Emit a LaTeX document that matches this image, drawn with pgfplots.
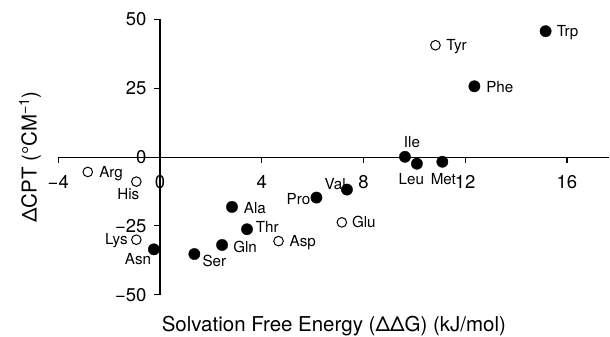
\documentclass[border=0pt]{standalone}
\usepackage{fontspec}
\setmainfont{TeX Gyre Heros}
\usepackage{pgfplots}
\pgfplotsset{compat=1.18}
\usepackage{pgfplotstable}

\pgfplotstableread{
x y
15.16 45.7
12.36 25.7
9.63 0.1
10.10 -2.4
11.10 -1.7
7.35 -11.8
6.15 -14.7
2.83 -18.1
3.42 -26.2
2.44 -31.9
1.35 -35.2
-0.24 -33.5
}\tabfilled

\pgfplotstableread{
x y
10.83 40.6
-2.84 -5.4
-0.93 -8.9
-0.93 -30.0
4.66 -30.5
7.15 -23.7
}\tabopen

\newcommand{\lab}[6]{\node[anchor=#3, xshift=#4pt, yshift=#5pt, inner sep=0pt, font=\fontsize{15.2}{18}\selectfont] at (axis cs:#1,#2) {#6};}

\begin{document}
\begin{tikzpicture}
\begin{axis}[
  scale only axis, width=551.7pt, height=275.7pt,
  xmin=-4, xmax=17.67, ymin=-50, ymax=50,
  axis lines=middle,
  hide obscured x ticks=false, hide obscured y ticks=false,
  axis line style={-, line width=1.1pt},
  tick style={line width=1.1pt, black},
  major tick length=6pt, tick align=outside,
  xtick={-4,0,4,8,12,16}, xticklabels={−4,0,4,8,12,16},
  ytick={-50,-25,0,25,50}, yticklabels={−50,−25,0,25,50},
  ticklabel style={font=\fontsize{18.5}{21}\selectfont},
  xticklabel style={yshift=-8.5pt},
  yticklabel style={xshift=-4pt},
  xlabel={Solvation Free Energy (ΔΔG) (kJ/mol)},
  ylabel={ΔCPT (°CM\textsuperscript{−1})},
  label style={font=\fontsize{20.5}{24}\selectfont},
  xlabel style={at={(rel axis cs:0.5,0)}, anchor=north, inner sep=0pt, yshift=-21.7pt},
  ylabel style={at={(rel axis cs:-0.031,0.5)}, anchor=south, rotate=90, inner sep=0pt},
  clip=false,
]
\path (rel axis cs:-0.1057,1.0703) rectangle (rel axis cs:1.0,-0.1451);
\addplot[only marks, mark=*, mark size=5.7pt, mark options={fill=black, draw=black, line width=0.3pt}] table[x=x, y=y] {\tabfilled};
\addplot[only marks, mark=*, mark size=4.8pt, mark options={fill=white, draw=black, line width=1pt}] table[x=x, y=y] {\tabopen};
\lab{15.16}{45.7}{west}{11}{-1.3}{Trp}
\lab{12.36}{25.7}{west}{11.7}{-0.6}{Phe}
\lab{9.63}{0.1}{south}{7}{8.4}{Ile}
\lab{10.10}{-2.4}{north}{-5.6}{-9.6}{Leu}
\lab{11.10}{-1.7}{north}{1}{-11.6}{Met}
\lab{7.35}{-11.8}{east}{-1}{6}{Val}
\lab{6.15}{-14.7}{east}{-6}{-1.7}{Pro}
\lab{2.83}{-18.1}{west}{11.7}{-1}{Ala}
\lab{3.42}{-26.2}{west}{8.7}{2}{Thr}
\lab{2.44}{-31.9}{west}{11}{-1.7}{Gln}
\lab{1.35}{-35.2}{west}{8}{-7.4}{Ser}
\lab{-0.24}{-33.5}{east}{-2.6}{-9.6}{Asn}
\lab{10.83}{40.6}{west}{10.7}{-1}{Tyr}
\lab{-2.84}{-5.4}{west}{11.3}{-1.6}{Arg}
\lab{-0.93}{-8.9}{north}{-8}{-7}{His}
\lab{-0.93}{-30.0}{east}{-8.4}{-0.7}{Lys}
\lab{4.66}{-30.5}{west}{11}{-1.3}{Asp}
\lab{7.15}{-23.7}{west}{10}{0}{Glu}
\end{axis}
\end{tikzpicture}
\end{document}
